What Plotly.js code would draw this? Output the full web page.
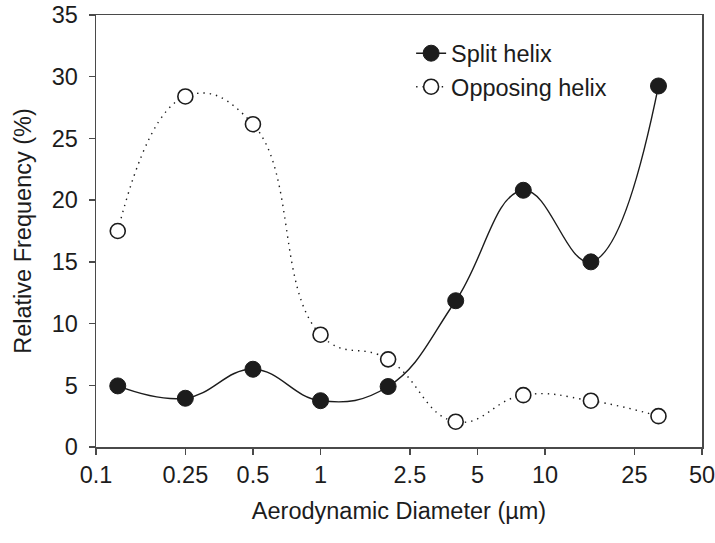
<!DOCTYPE html>
<html>
<head>
<meta charset="utf-8">
<script src="https://cdn.plot.ly/plotly-3.0.1.min.js"></script>
<style>html,body{margin:0;padding:0;background:#fff;}#chart{width:715px;height:543px;}</style>
</head>
<body>
<div id="chart"></div>
<script>
// Aerodynamic diameter (µm) of each size class
const diameters = [0.125, 0.25, 0.5, 1, 2, 4, 8, 16, 32];
// Relative frequency (%)
const splitHelix = [4.95, 3.95, 6.3, 3.75, 4.9, 11.85, 20.8, 15.0, 29.25];
const opposingHelix = [17.5, 28.4, 26.15, 9.1, 7.1, 2.05, 4.2, 3.75, 2.5];
// Axis tick labels
const xTickVals = [0.1, 0.25, 0.5, 1, 2.5, 5, 10, 25, 50];
const xTickText = ['0.1', '0.25', '0.5', '1', '2.5', '5', '10', '25', '50'];

const ink = '#1c1c1c';
const axisColor = '#4a4a4a';
const fontFamily = 'Liberation Sans, Arial, Helvetica, sans-serif';
const fs = 23.5;

const traces = [
  {
    x: diameters, y: splitHelix, name: 'Split helix',
    type: 'scatter', mode: 'lines+markers',
    line: {color: ink, width: 1.4, shape: 'spline', smoothing: 1.2},
    marker: {symbol: 'circle', size: 16, color: ink, line: {color: ink, width: 1}}
  },
  {
    x: diameters, y: opposingHelix, name: 'Opposing helix',
    type: 'scatter', mode: 'lines+markers',
    line: {color: ink, width: 1.4, shape: 'spline', smoothing: 1.3, dash: '1.4px,5px'},
    marker: {symbol: 'circle', size: 15, color: '#ffffff', line: {color: ink, width: 1.6}}
  }
];

const layout = {
  width: 715, height: 543,
  margin: {l: 96, r: 13, t: 15, b: 96},
  paper_bgcolor: '#fff', plot_bgcolor: '#fff',
  font: {family: fontFamily, size: fs, color: ink},
  showlegend: true,
  legend: {
    x: 0.52, y: 0.962, xanchor: 'left', yanchor: 'top',
    bgcolor: 'rgba(0,0,0,0)', borderwidth: 0,
    font: {family: fontFamily, size: fs, color: ink},
    tracegroupgap: 0
  },
  xaxis: {
    type: 'log', range: [-1, Math.log10(50)],
    tickmode: 'array', tickvals: xTickVals, ticktext: xTickText,
    ticks: 'outside', ticklen: 6, tickwidth: 1.5, tickcolor: axisColor,
    ticklabelstandoff: 0, ticklabeloverflow: 'allow',
    showline: true, linecolor: axisColor, linewidth: 1.5, mirror: true,
    showgrid: false, zeroline: false,
    tickfont: {family: fontFamily, size: fs, color: ink},
    title: {text: 'Aerodynamic Diameter (\u00b5m)', standoff: 16, font: {family: fontFamily, size: fs, color: ink}}
  },
  yaxis: {
    range: [0, 35], tickmode: 'linear', tick0: 0, dtick: 5,
    ticks: 'outside', ticklen: 6, tickwidth: 1.5, tickcolor: axisColor,
    ticklabelstandoff: 6,
    showline: true, linecolor: axisColor, linewidth: 1.5, mirror: true,
    showgrid: false, zeroline: false,
    tickfont: {family: fontFamily, size: fs, color: ink},
    title: {text: 'Relative Frequency (%)', standoff: 13, font: {family: fontFamily, size: fs, color: ink}}
  }
};

Plotly.newPlot('chart', traces, layout, {displayModeBar: false, staticPlot: true});
</script>
</body>
</html>
